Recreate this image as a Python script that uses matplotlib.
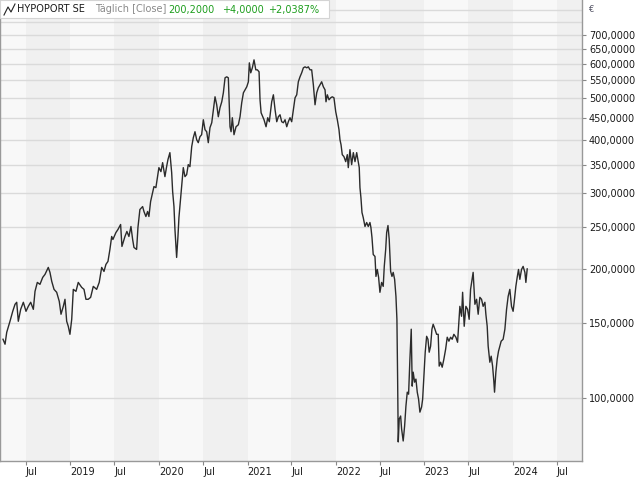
import datetime as dt

import matplotlib
matplotlib.use('Agg')
import matplotlib.pyplot as plt
import matplotlib.transforms as mtransforms
from matplotlib.patches import Rectangle
from matplotlib.lines import Line2D

# HYPOPORT SE, daily close (EUR).
# Time is given as decimal year.
t_years = [
    2018.237, 2018.260, 2018.279, 2018.316, 2018.347, 2018.373, 2018.392, 2018.410,
    2018.437, 2018.467, 2018.497, 2018.523, 2018.550, 2018.580, 2018.599, 2018.625,
    2018.655, 2018.686, 2018.712, 2018.749, 2018.768, 2018.788, 2018.814, 2018.844,
    2018.873, 2018.893, 2018.919, 2018.938, 2018.957, 2018.975, 2018.994, 2019.014,
    2019.032, 2019.062, 2019.088, 2019.127, 2019.153, 2019.175, 2019.201, 2019.228,
    2019.258, 2019.296, 2019.325, 2019.353, 2019.379, 2019.401, 2019.424, 2019.446,
    2019.466, 2019.480, 2019.514, 2019.537, 2019.567, 2019.582, 2019.616, 2019.638,
    2019.661, 2019.684, 2019.703, 2019.718, 2019.748, 2019.763, 2019.785, 2019.816,
    2019.831, 2019.853, 2019.872, 2019.887, 2019.906, 2019.929, 2019.944, 2019.966,
    2019.985, 2020.000, 2020.023, 2020.042, 2020.068, 2020.087, 2020.102, 2020.124,
    2020.144, 2020.155, 2020.170, 2020.181, 2020.200, 2020.215, 2020.226, 2020.257,
    2020.275, 2020.294, 2020.313, 2020.331, 2020.350, 2020.370, 2020.388, 2020.407,
    2020.426, 2020.444, 2020.463, 2020.482, 2020.501, 2020.520, 2020.539, 2020.557,
    2020.576, 2020.596, 2020.614, 2020.633, 2020.652, 2020.670, 2020.689, 2020.709,
    2020.727, 2020.746, 2020.765, 2020.783, 2020.802, 2020.814, 2020.828, 2020.847,
    2020.870, 2020.896, 2020.915, 2020.934, 2020.953, 2020.972, 2020.991, 2021.009,
    2021.020, 2021.036, 2021.054, 2021.073, 2021.093, 2021.111, 2021.130, 2021.141,
    2021.153, 2021.172, 2021.186, 2021.209, 2021.228, 2021.246, 2021.273, 2021.292,
    2021.311, 2021.330, 2021.348, 2021.367, 2021.386, 2021.405, 2021.424, 2021.443,
    2021.461, 2021.480, 2021.499, 2021.518, 2021.537, 2021.556, 2021.574, 2021.593,
    2021.612, 2021.631, 2021.650, 2021.669, 2021.687, 2021.706, 2021.725, 2021.744,
    2021.763, 2021.782, 2021.800, 2021.819, 2021.838, 2021.857, 2021.876, 2021.887,
    2021.902, 2021.921, 2021.940, 2021.958, 2021.977, 2021.997, 2022.015, 2022.034,
    2022.045, 2022.057, 2022.071, 2022.090, 2022.110, 2022.128, 2022.139, 2022.158,
    2022.177, 2022.196, 2022.215, 2022.234, 2022.252, 2022.263, 2022.271, 2022.282,
    2022.294, 2022.308, 2022.328, 2022.347, 2022.365, 2022.384, 2022.395, 2022.407,
    2022.421, 2022.441, 2022.452, 2022.467, 2022.482, 2022.497, 2022.516, 2022.534,
    2022.546, 2022.562, 2022.573, 2022.588, 2022.602, 2022.618, 2022.633, 2022.647,
    2022.663, 2022.678, 2022.689, 2022.697, 2022.704, 2022.715, 2022.731, 2022.742,
    2022.760, 2022.776, 2022.791, 2022.806, 2022.821, 2022.836, 2022.851, 2022.862,
    2022.873, 2022.889, 2022.904, 2022.919, 2022.934, 2022.949, 2022.968, 2022.980,
    2022.994, 2023.009, 2023.025, 2023.040, 2023.054, 2023.070, 2023.085, 2023.099,
    2023.119, 2023.138, 2023.156, 2023.167, 2023.183, 2023.201, 2023.220, 2023.240,
    2023.258, 2023.277, 2023.296, 2023.314, 2023.333, 2023.356, 2023.375, 2023.390,
    2023.401, 2023.420, 2023.432, 2023.450, 2023.469, 2023.488, 2023.506, 2023.522,
    2023.551, 2023.571, 2023.590, 2023.608, 2023.627, 2023.646, 2023.664, 2023.684,
    2023.695, 2023.710, 2023.721, 2023.740, 2023.755, 2023.771, 2023.785, 2023.793,
    2023.808, 2023.823, 2023.838, 2023.853, 2023.868, 2023.890, 2023.910, 2023.929,
    2023.947, 2023.966, 2023.985, 2024.003, 2024.015, 2024.034, 2024.049, 2024.064,
    2024.079, 2024.098, 2024.116, 2024.136, 2024.147, 2024.162,
]
close = [
    137.3, 133.7, 142.5, 151.2, 159.5, 165.6, 167.4, 151.2,
    161.2, 167.4, 159.5, 163.8, 167.4, 161.2, 177.5, 186.2,
    184.3, 191.3, 194.4, 201.8, 196.5, 187.3, 179.4, 176.6,
    168.3, 157.0, 163.8, 170.1, 151.2, 147.2, 141.0, 152.8,
    179.4, 177.5, 186.2, 181.3, 179.4, 170.1, 170.1, 171.9,
    182.3, 179.4, 186.2, 201.8, 197.5, 205.1, 208.4, 222.2,
    238.2, 234.4, 243.3, 247.3, 254.0, 225.8, 238.2, 244.7,
    238.2, 251.3, 234.4, 224.6, 222.2, 249.9, 275.2, 279.6,
    272.3, 265.1, 272.3, 265.1, 287.2, 301.4, 311.2, 309.5,
    328.3, 344.5, 337.2, 353.8, 328.3, 346.3, 359.6, 373.3,
    335.4, 303.0, 279.6, 247.3, 212.9, 238.2, 263.7, 311.2,
    344.5, 328.3, 331.8, 350.1, 346.3, 385.5, 404.4, 417.6,
    400.1, 393.8, 406.6, 411.0, 445.3, 422.1, 417.6, 393.8,
    426.7, 438.2, 469.8, 503.6, 482.5, 452.5, 474.9, 490.3,
    514.5, 557.5, 560.5, 557.5, 428.9, 417.6, 450.1, 411.0,
    428.9, 433.5, 452.5, 487.7, 514.5, 522.8, 531.3, 545.7,
    604.1, 572.6, 588.2, 613.8, 581.9, 581.9, 575.7, 495.6,
    462.3, 452.5, 445.3, 428.9, 450.1, 440.6, 490.3, 509.0,
    469.8, 440.6, 452.5, 457.4, 440.6, 438.2, 445.3, 428.9,
    440.6, 450.1, 440.6, 469.8, 500.9, 509.0, 545.7, 560.5,
    572.6, 588.2, 591.3, 588.2, 591.3, 581.9, 581.9, 537.0,
    482.5, 514.5, 528.4, 537.0, 545.7, 531.3, 522.8, 490.3,
    509.0, 495.6, 500.9, 503.6, 500.9, 464.8, 445.3, 422.1,
    400.1, 389.6, 369.3, 365.4, 355.7, 369.3, 344.5, 379.3,
    350.1, 373.3, 355.7, 373.3, 355.7, 344.5, 309.5, 293.4,
    270.8, 263.7, 251.3, 256.7, 251.3, 256.7, 249.9, 236.9,
    216.3, 214.0, 192.3, 199.6, 191.3, 176.6, 186.2, 182.3,
    202.9, 222.2, 243.3, 252.6, 234.4, 197.5, 192.3, 196.5,
    189.3, 172.8, 152.8, 110.9, 79.2, 89.5, 91.0, 84.9,
    79.6, 86.2, 96.0, 103.4, 102.3, 123.4, 144.9, 106.8,
    115.1, 109.1, 110.9, 103.4, 99.6, 92.9, 95.5, 99.6,
    112.7, 128.1, 139.5, 137.3, 128.1, 132.3, 144.9, 148.8,
    144.9, 141.0, 141.0, 118.9, 121.4, 118.2, 123.4, 130.2,
    138.8, 135.9, 138.8, 137.3, 141.0, 138.8, 135.1, 150.5,
    163.8, 155.3, 176.6, 147.2, 163.8, 161.2, 152.8, 179.4,
    196.5, 165.6, 170.1, 157.0, 171.9, 170.1, 163.8, 167.4,
    157.0, 147.2, 132.3, 121.4, 125.4, 118.9, 109.7, 103.4,
    115.1, 123.4, 128.8, 132.3, 135.9, 137.3, 144.9, 161.2,
    172.8, 179.4, 163.8, 159.5, 167.4, 182.3, 191.3, 199.6,
    189.3, 199.6, 202.9, 196.5, 186.2, 200.2,
]

y_ticks = [100, 150, 200, 250, 300, 350, 400, 450, 500, 550, 600, 650, 700]
y_grid_extra = [750, 800]
years = [2018, 2019, 2020, 2021, 2022, 2023, 2024]

name = 'HYPOPORT SE'
period = 'Täglich [Close]'
last_close = '200,2000'
change_abs = '+4,0000'
change_pct = '+2,0387%'


def to_date(t):
    y = int(t)
    start = dt.datetime(y, 1, 1)
    end = dt.datetime(y + 1, 1, 1)
    return start + (end - start) * (t - y)


dates = [to_date(t) for t in t_years]

LIGHT = '#f8f8f8'
DARK = '#f0f0f0'
GREEN = '#1e9e1e'
TEXT = '#1a1a1a'

fig = plt.figure(figsize=(6.4, 4.8), dpi=100)
ax = fig.add_axes([0.0, 19 / 480, 582 / 640, 461 / 480])
ax.set_facecolor(LIGHT)

# half-year shading: second half of each year is darker
for y in years:
    ax.axvspan(dt.datetime(y, 7, 1), dt.datetime(y + 1, 1, 1),
               color=DARK, lw=0, zorder=0)

ax.set_yscale('log')
ax.set_ylim(71.5, 846)
ax.set_xlim(to_date(2018.203), to_date(2024.780))

for v in y_ticks + y_grid_extra:
    ax.axhline(v, color='#dadada', lw=1.0, zorder=1)

ax.plot(dates, close, color='#2b2b2b', lw=1.0, zorder=3)

# y axis on the right
ax.yaxis.tick_right()
ax.set_yticks(y_ticks)
ax.set_yticklabels(['{:.4f}'.format(v).replace('.', ',') for v in y_ticks])
ax.yaxis.set_minor_locator(matplotlib.ticker.NullLocator())
ax.tick_params(axis='y', which='major', length=3, width=0.8, color='#888888',
               pad=2, labelsize=7, labelcolor=TEXT)

# x axis: years and July, labels start just right of the tick
xt, xl = [], []
for y in years:
    if y >= 2019:
        xt.append(dt.datetime(y, 1, 1))
        xl.append(str(y))
    xt.append(dt.datetime(y, 7, 1))
    xl.append('Jul')
ax.set_xticks(xt)
ax.set_xticklabels(xl)
shift = mtransforms.ScaledTranslation(1.5 / 100, 0, fig.dpi_scale_trans)
for lab in ax.get_xticklabels():
    lab.set_horizontalalignment('left')
    lab.set_transform(lab.get_transform() + shift)
ax.tick_params(axis='x', which='major', length=3, width=0.8, color='#888888',
               pad=1, labelsize=7, labelcolor=TEXT)

for side in ['left', 'right', 'bottom', 'top']:
    ax.spines[side].set_color('#999999')
    ax.spines[side].set_linewidth(1.0)
ax.spines['top'].set_visible(False)

# currency label above the price scale
fig.text(588 / 640, 1 - 10 / 480, '€', fontsize=6, color='#555566',
         ha='left', va='center')

# header box with instrument name and last values
ax.add_patch(Rectangle((0, 1 - 18 / 461), 329 / 582, 18 / 461,
                       transform=ax.transAxes, facecolor='white',
                       edgecolor='#d4d4d4', lw=0.8, zorder=5, clip_on=False))
fig.add_artist(Line2D([4 / 640, 8 / 640, 11 / 640, 15 / 640],
                      [1 - 15 / 480, 1 - 7 / 480, 1 - 12 / 480, 1 - 4 / 480],
                      color='#222222', lw=0.8, zorder=6))
header = [
    (name, 17, TEXT),
    (period, 95, '#8a8a8a'),
    (last_close, 168, GREEN),
    (change_abs, 222, GREEN),
    (change_pct, 268, GREEN),
]
for txt, px, col in header:
    fig.text(px / 640, 1 - 9.5 / 480, txt, fontsize=7, color=col,
             ha='left', va='center', zorder=6)

fig.savefig('out.png', dpi=100)
